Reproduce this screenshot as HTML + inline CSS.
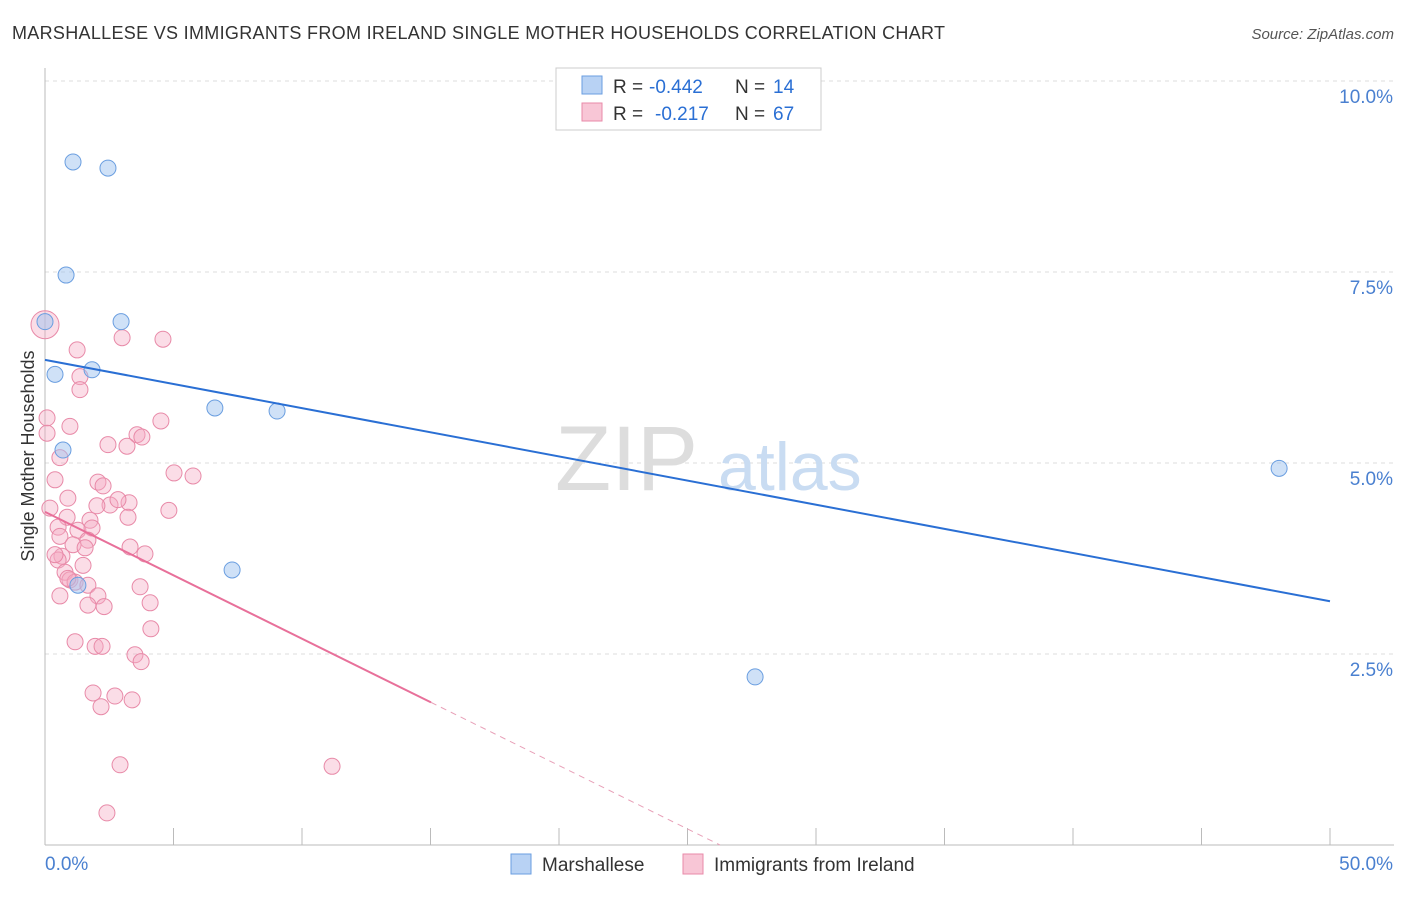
<!DOCTYPE html>
<html><head><meta charset="utf-8"><style>
body{margin:0;background:#fff;font-family:"Liberation Sans",sans-serif;}
svg text{font-family:"Liberation Sans",sans-serif;}
</style></head><body>
<svg width="1406" height="892" viewBox="0 0 1406 892">
<text x="12" y="39" font-size="18" fill="#333" textLength="933">MARSHALLESE VS IMMIGRANTS FROM IRELAND SINGLE MOTHER HOUSEHOLDS CORRELATION CHART</text>
<text x="1394" y="39" font-size="15" fill="#555" font-style="italic" text-anchor="end">Source: ZipAtlas.com</text>
<g id="grid"></g>
<g id="axes"></g>
<text x="555" y="490" font-size="92" fill="#ddd" font-family="Liberation Serif">ZIP</text>
<text x="718" y="490" font-size="68" fill="#c9dcf2">atlas</text>
<g id="pts"></g>
<g id="lines"></g>
<text transform="translate(34,456) rotate(-90)" font-size="18" fill="#333" text-anchor="middle">Single Mother Households</text>
<g>
<rect x="556" y="68" width="265" height="62" fill="#fff" stroke="#ccc"/>
<rect x="582" y="76" width="20" height="18" fill="#b8d2f4" stroke="#6a9ee0"/>
<rect x="582" y="103" width="20" height="18" fill="#f8c6d6" stroke="#e88aa8"/>
<text x="613" y="93" font-size="19" fill="#333">R =</text>
<text x="649" y="93" font-size="19" fill="#2a6fd4">-0.442</text>
<text x="735" y="93" font-size="19" fill="#333">N =</text>
<text x="773" y="93" font-size="19" fill="#2a6fd4">14</text>
<text x="613" y="120" font-size="19" fill="#333">R =</text>
<text x="655" y="120" font-size="19" fill="#2a6fd4">-0.217</text>
<text x="735" y="120" font-size="19" fill="#333">N =</text>
<text x="773" y="120" font-size="19" fill="#2a6fd4">67</text>
</g>
<g>
<rect x="511" y="854" width="20" height="20" fill="#b8d2f4" stroke="#6a9ee0"/>
<text x="542" y="871" font-size="19" fill="#333">Marshallese</text>
<rect x="683" y="854" width="20" height="20" fill="#f8c6d6" stroke="#e88aa8"/>
<text x="714" y="871" font-size="19" fill="#333">Immigrants from Ireland</text>
</g>
</svg>
<script>
const xTicks=[0,5,10,15,20,25,30,35,40,45,50];
const yTicks=[2.5,5,7.5,10];
const yTickLabels=["2.5%","5.0%","7.5%","10.0%"];
const blueX=[1.09,2.45,0.82,0,2.96,0.39,1.83,0.70,6.61,9.03,1.28,7.28,27.63,48.02];
const blueY=[8.94,8.86,7.46,6.85,6.85,6.16,6.22,5.17,5.72,5.68,3.40,3.60,2.20,4.93];
const pinkPx=[[45,325],[77,350],[122,338],[163,339],[80,377],[80,390],[47,418],[70,426],[161,421],[47,433],[137,435],[142,437],[108,445],[127,446],[60,458],[174,473],[193,476],[55,480],[98,482],[103,486],[68,498],[129,503],[110,505],[97,506],[50,508],[169,510],[128,517],[67,517],[90,520],[58,527],[78,530],[92,528],[88,540],[60,536],[73,545],[130,547],[145,554],[62,556],[58,560],[55,555],[83,565],[65,572],[70,580],[75,582],[88,585],[140,587],[98,596],[60,596],[88,605],[104,607],[150,603],[151,629],[75,642],[95,646],[102,646],[135,655],[141,662],[93,693],[115,696],[132,700],[101,707],[120,765],[332,766],[107,813],[68,578],[85,548],[118,500]];
const pinkX=pinkPx.map(p=>+((p[0]-45)/1285*50).toFixed(2));
const pinkY=pinkPx.map(p=>+((845-p[1])/76.4).toFixed(2));
const blueLine=[6.35,3.19];
const pinkLine=[4.36,-0.166];
const X=v=>45+v/50*1285, Y=v=>845-v*76.4;
const NS="http://www.w3.org/2000/svg";
function mk(t,a,p){const e=document.createElementNS(NS,t);for(const k in a)e.setAttribute(k,a[k]);document.getElementById(p).appendChild(e);return e;}
yTicks.forEach((v,i)=>{
 const l=mk('line',{x1:45,x2:1394,y1:Y(v),y2:Y(v),stroke:'#ddd','stroke-dasharray':'4,4'},'grid');
 
 
 const t=mk('text',{x:1393,y:Y(v)+22,'font-size':19,fill:'#4a80d0','text-anchor':'end'},'axes');t.textContent=yTickLabels[i];
 
 
});
mk('line',{x1:45,x2:45,y1:68,y2:845,stroke:'#bbb'},'axes');
mk('line',{x1:45,x2:1394,y1:845,y2:845,stroke:'#bbb'},'axes');
xTicks.forEach(v=>{const l=mk('line',{x1:X(v),x2:X(v),y1:828,y2:845,stroke:'#bbb'},'axes');
 
 });
let t=mk('text',{x:45,y:870,'font-size':19,fill:'#4a80d0'},'axes');t.textContent='0.0%';
t=mk('text',{x:1393,y:870,'font-size':19,fill:'#4a80d0','text-anchor':'end'},'axes');t.textContent='50.0%';
pinkX.forEach((x,i)=>{const c=mk('circle',{cx:X(x),cy:Y(pinkY[i]),r:i==0?14:8,fill:'rgba(245,170,195,0.4)',stroke:'#e88aa8','stroke-width':1},'pts');
 
 });
blueX.forEach((x,i)=>{const c=mk('circle',{cx:X(x),cy:Y(blueY[i]),r:8,fill:'rgba(160,195,240,0.5)',stroke:'#6a9ee0','stroke-width':1},'pts');
 
 });
let l=mk('line',{x1:X(0),y1:Y(blueLine[0]),x2:X(50),y2:Y(blueLine[1]),stroke:'#2a6fd4','stroke-width':2},'lines');


const pe=15.02, pz=-pinkLine[0]/pinkLine[1];
l=mk('line',{x1:X(0),y1:Y(pinkLine[0]),x2:X(pe),y2:Y(pinkLine[0]+pinkLine[1]*pe),stroke:'#e8709a','stroke-width':2},'lines');


l=mk('line',{x1:X(pe),y1:Y(pinkLine[0]+pinkLine[1]*pe),x2:X(pz),y2:Y(0),stroke:'#e8a0b8','stroke-width':1,'stroke-dasharray':'6,5'},'lines');


</script>
</body></html>
